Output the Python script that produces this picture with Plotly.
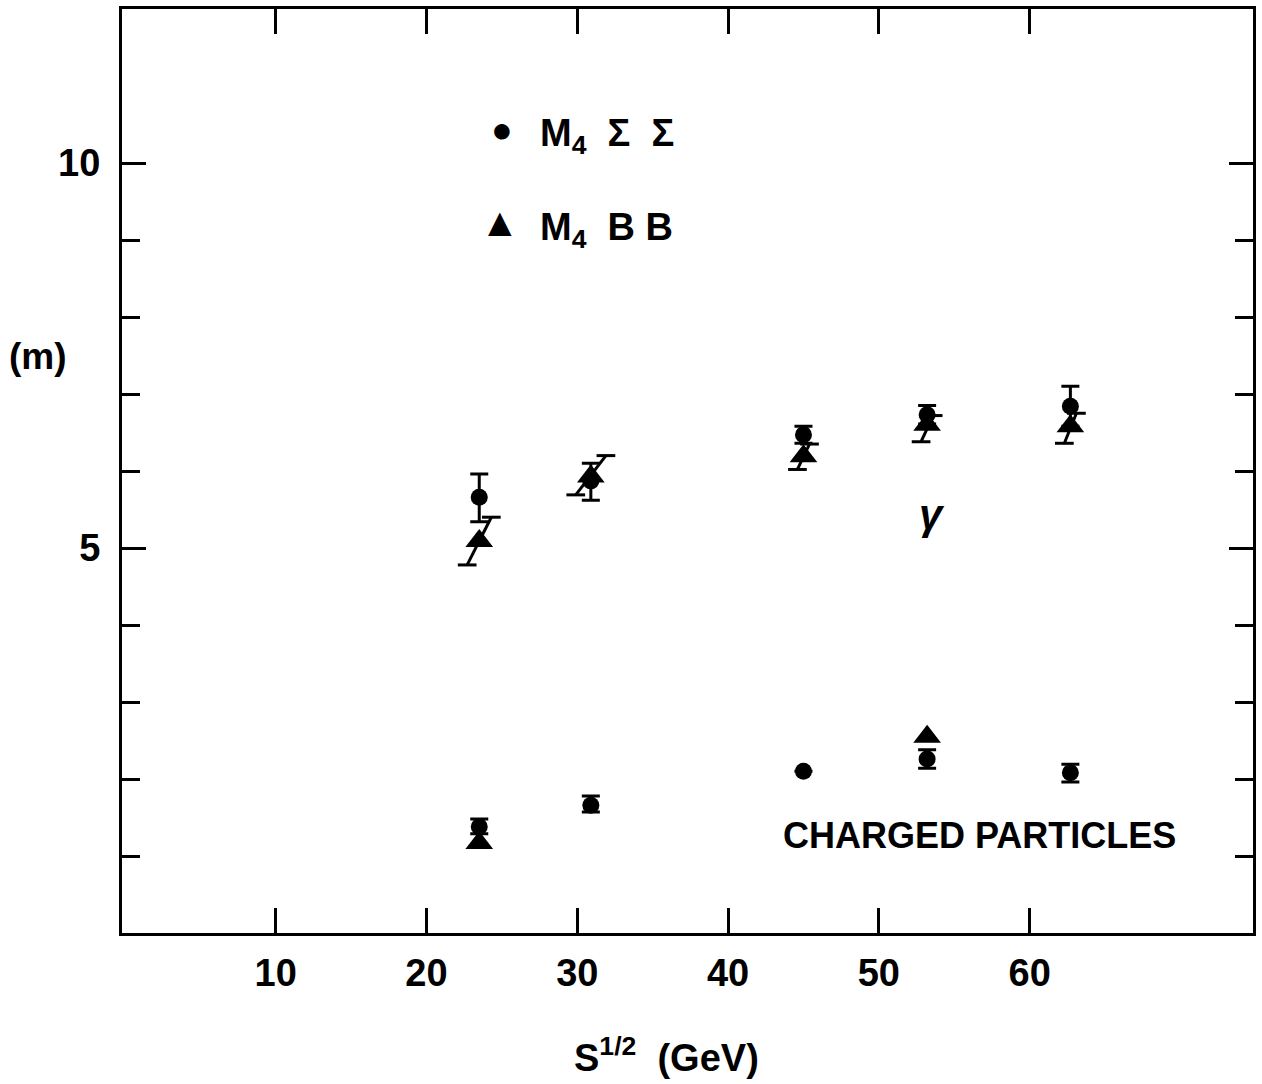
import plotly.graph_objects as go

# ---------------- data ----------------
energies = [23.5, 30.9, 45.0, 53.2, 62.7]          # S^1/2 (GeV)

# photons (gamma), M4 Sigma-Sigma (circles)
gam_circ_y  = [5.66, 5.87, 6.47, 6.73, 6.84]
gam_circ_hi = [5.96, 6.10, 6.58, 6.85, 7.10]
gam_circ_lo = [5.34, 5.62, 6.36, 6.61, 6.58]

# photons (gamma), M4 BB (triangles)
gam_tri_y  = [5.09, 5.93, 6.19, 6.60, 6.58]
gam_tri_hi = [5.40, 6.20, 6.35, 6.72, 6.75]
gam_tri_lo = [4.78, 5.69, 6.02, 6.38, 6.36]

# charged particles, M4 Sigma-Sigma (circles)
ch_circ_y  = [1.38, 1.66, 2.10, 2.26, 2.08]
ch_circ_hi = [1.48, 1.78, 2.10, 2.38, 2.19]
ch_circ_lo = [1.29, 1.57, 2.10, 2.14, 1.96]

# charged particles, M4 BB (triangles)
ch_tri_x = [23.5, 53.2]
ch_tri_y = [1.17, 2.55]

x_ticks = [10, 20, 30, 40, 50, 60]
y_major = [5, 10]
y_minor = [1, 2, 3, 4, 6, 7, 8, 9]

# style: slant of the triangle error bars (x units) and cap half-width
tri_slant = [0.8, 1.0, 0.4, 0.4, 0.4]
CAP = 0.62

FONT = "Liberation Sans"

fig = go.Figure()

# slanted error bars for the triangles
sx, sy = [], []
for x, lo, hi, d in zip(energies, gam_tri_lo, gam_tri_hi, tri_slant):
    sx += [x - d, x + d, None, x - d - CAP, x - d + CAP, None, x + d - CAP, x + d + CAP, None]
    sy += [lo, hi, None, lo, lo, None, hi, hi, None]
fig.add_trace(go.Scatter(x=sx, y=sy, mode="lines", line=dict(color="black", width=3),
                         showlegend=False, hoverinfo="skip"))

tri_marker = dict(symbol="triangle-up", size=24, color="black")
circ_marker = dict(symbol="circle", size=17, color="black")

fig.add_trace(go.Scatter(x=energies, y=gam_tri_y, mode="markers", marker=tri_marker,
                         name="M4 BB", showlegend=False))
fig.add_trace(go.Scatter(x=ch_tri_x, y=ch_tri_y, mode="markers", marker=tri_marker,
                         name="M4 BB (charged)", showlegend=False))


def circ_trace(y, hi, lo, name):
    return go.Scatter(
        x=energies, y=y, mode="markers", marker=circ_marker, name=name, showlegend=False,
        error_y=dict(type="data", symmetric=False,
                     array=[h - v for h, v in zip(hi, y)],
                     arrayminus=[v - l for l, v in zip(lo, y)],
                     color="black", thickness=3, width=9))


fig.add_trace(circ_trace(gam_circ_y, gam_circ_hi, gam_circ_lo, "M4 ΣΣ"))
fig.add_trace(circ_trace(ch_circ_y, ch_circ_hi, ch_circ_lo, "M4 ΣΣ (charged)"))

W, H = 1262, 1084
L, R, T, B = 122, 6, 7, 151

fig.update_layout(
    width=W, height=H, autosize=False,
    margin=dict(l=L, r=R, t=T, b=B, pad=0),
    paper_bgcolor="white", plot_bgcolor="white",
    font=dict(family=FONT, color="black", size=34, weight="bold"),
    showlegend=False,
)

tickfont = dict(size=38, family=FONT, color="black", weight="bold")
fig.update_xaxes(
    range=[-0.19, 74.81], tickvals=x_ticks, ticktext=[str(v) for v in x_ticks],
    ticks="inside", ticklen=25, tickwidth=2.5, tickcolor="black",
    showline=True, linewidth=3, linecolor="black", mirror="allticks",
    showgrid=False, zeroline=False, tickfont=tickfont,
    ticklabelstandoff=4,
)
fig.update_yaxes(
    range=[0, 12], tickvals=y_major, ticktext=[str(v) for v in y_major],
    ticks="inside", ticklen=24, tickwidth=2.5, tickcolor="black",
    showline=True, linewidth=3, linecolor="black", mirror="allticks",
    showgrid=False, zeroline=False, tickfont=tickfont,
    ticklabelstandoff=11,
    minor=dict(tickvals=y_minor, ticks="inside", ticklen=18, tickwidth=2.5,
               tickcolor="black", showgrid=False),
)

ann = []
# legend (drawn as text)
ann.append(dict(x=503, y=128, text="●", size=36))
ann.append(dict(x=501, y=220, text="▲", size=40))
ann.append(dict(x=539, y=134, text="M<sub>4</sub>  Σ  Σ", xanchor="left", size=38))
ann.append(dict(x=539, y=228, text="M<sub>4</sub>  B B", xanchor="left", size=38))
# labels
ann.append(dict(x=38, y=355, text="(m)", size=37))
ann.append(dict(x=934, y=514, text="<i>γ</i>", size=42))
ann.append(dict(x=982, y=835, text="CHARGED PARTICLES", size=36))
ann.append(dict(x=668, y=1055, text="S<sup>1/2</sup>  (GeV)", size=38))

pw, ph = W - L - R, H - T - B
for a in ann:
    fig.add_annotation(
        x=(a["x"] - L) / pw, y=1 - (a["y"] - T) / ph, xref="paper", yref="paper",
        text=a["text"], showarrow=False, xanchor=a.get("xanchor", "center"),
        yanchor="middle",
        font=dict(family=FONT, color="black", size=a["size"], weight="bold"),
    )

fig.write_html("out.html", config={"displayModeBar": False},
               post_script="document.body.style.margin='0';")
